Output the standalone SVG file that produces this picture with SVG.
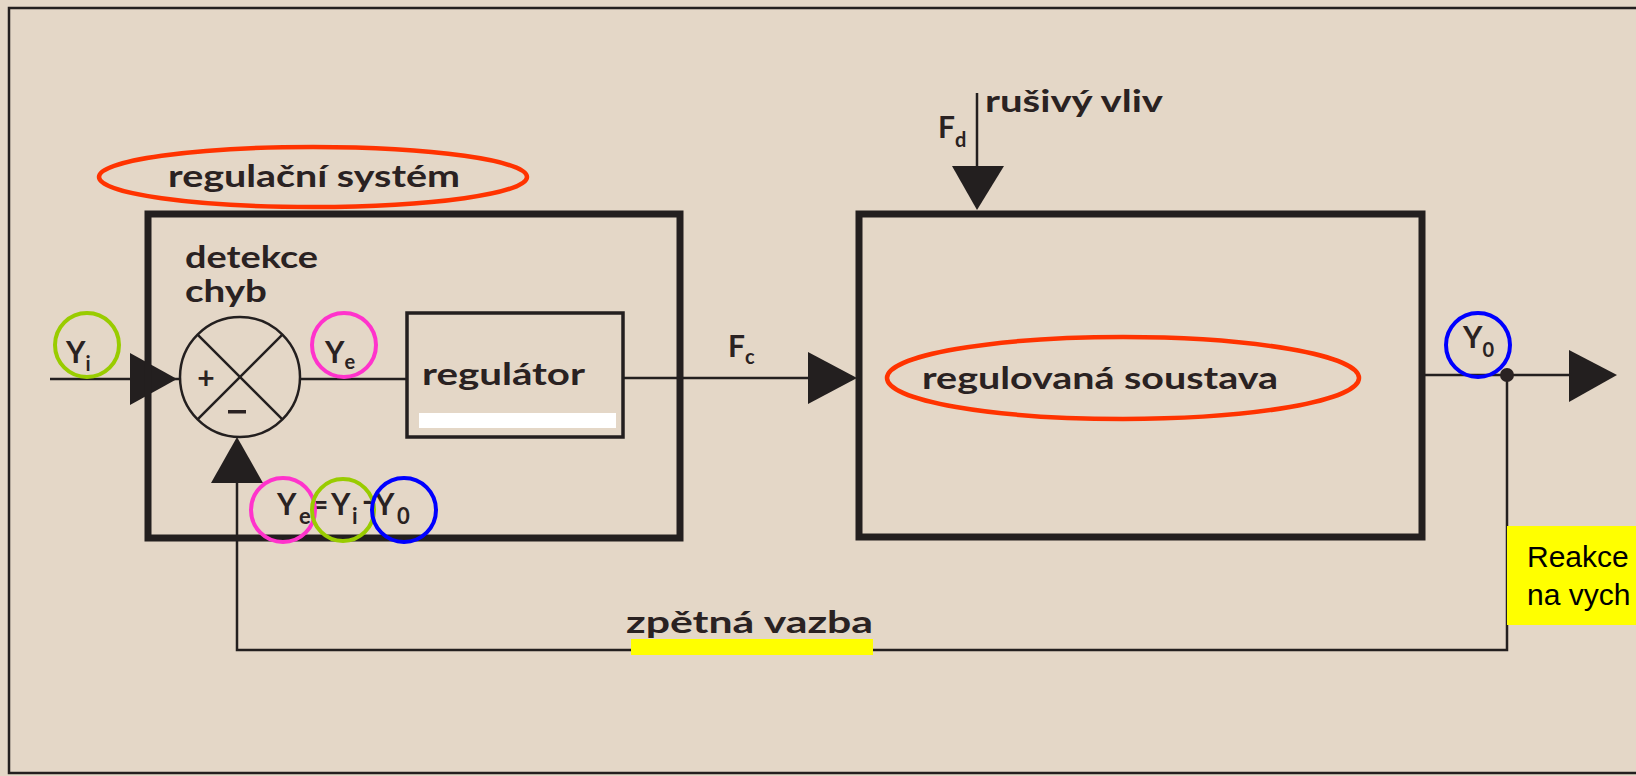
<svg xmlns="http://www.w3.org/2000/svg" width="1636" height="776" viewBox="0 0 1636 776">
<style>
.bg{fill:#e4d7c7}
.ink{stroke:#231f1f;fill:none}
.box{stroke:#231f1f;fill:none;stroke-width:7}
.thin{stroke:#231f1f;fill:none;stroke-width:2.5}
.tri{fill:#231f1f;stroke:none}
.lbl{font-family:Lato,"Open Sans","DejaVu Sans",sans-serif;font-weight:bold;font-size:30px;fill:#2a2222}
.sym{font-family:Lato,"Open Sans","DejaVu Sans",sans-serif;font-weight:bold;font-size:30px;fill:#2a2222}
.sub{font-size:20px}
.red{stroke:#ff3300;fill:none;stroke-width:4.5}
.grn{stroke:#99cc00;fill:none;stroke-width:4}
.mag{stroke:#ff33cc;fill:none;stroke-width:4}
.blu{stroke:#0000ff;fill:none;stroke-width:4}
.note{font-family:"Liberation Sans",Arial,sans-serif;font-size:30px;fill:#000}
</style>
<rect class="bg" x="0" y="0" width="1636" height="776"/>
<rect x="9" y="8" width="1640" height="765" fill="none" stroke="#231f1f" stroke-width="2.5"/>

<g id="connectors">
  <line class="thin" x1="50" y1="379" x2="180" y2="379"/>
  <polygon class="tri" points="130,353 130,405 177,379"/>
  <line class="thin" x1="300" y1="379" x2="407" y2="379"/>
  <line class="thin" x1="623" y1="378" x2="810" y2="378"/>
  <polygon class="tri" points="808,352 808,404 857,378"/>
  <line class="thin" x1="977" y1="93" x2="977" y2="170"/>
  <polygon class="tri" points="952,166 1004,166 977,210"/>
  <line class="thin" x1="1422" y1="375" x2="1572" y2="375"/>
  <polygon class="tri" points="1569,350 1569,402 1617,375"/>
  <polyline class="thin" points="1507,375 1507,650 237,650 237,480"/>
  <polygon class="tri" points="211,483 263,483 237,437"/>
</g>

<g id="regulacni-system">
  <rect class="box" x="148" y="214" width="532" height="324"/>
  <ellipse class="red" cx="313" cy="177" rx="214" ry="30"/>
  <text class="lbl" x="168" y="187" textLength="292" lengthAdjust="spacingAndGlyphs">regulační systém</text>
</g>

<g id="detekce-chyb">
  <text class="lbl" x="185" y="268" textLength="133" lengthAdjust="spacingAndGlyphs">detekce</text>
  <text class="lbl" x="185" y="302" textLength="82" lengthAdjust="spacingAndGlyphs">chyb</text>
  <circle class="thin" cx="240" cy="377" r="60"/>
  <line class="thin" x1="197.6" y1="334.6" x2="282.4" y2="419.4"/>
  <line class="thin" x1="282.4" y1="334.6" x2="197.6" y2="419.4"/>
  <text class="sym" x="206" y="389" text-anchor="middle">+</text>
  <rect x="228" y="410" width="18" height="3.5" fill="#2a2222"/>
</g>

<g id="regulator">
  <rect class="ink" x="407" y="313" width="216" height="124" stroke-width="3.5"/>
  <text class="lbl" x="422" y="385" textLength="163" lengthAdjust="spacingAndGlyphs">regulátor</text>
  <rect x="419" y="413" width="197" height="15" fill="#ffffff"/>
</g>

<g id="regulovana-soustava">
  <rect class="box" x="859" y="214" width="563" height="323"/>
  <ellipse class="red" cx="1123" cy="378" rx="236" ry="41"/>
  <text class="lbl" x="922" y="389" textLength="356" lengthAdjust="spacingAndGlyphs">regulovaná  soustava</text>
</g>

<g id="disturbance">
  <text class="lbl" x="985" y="112" textLength="178" lengthAdjust="spacingAndGlyphs">rušivý  vliv</text>
  <text class="sym" x="938" y="138">F<tspan class="sub" dy="9">d</tspan></text>
</g>

<g id="labels">
  <text class="sym" x="728" y="357">F<tspan class="sub" dy="7">c</tspan></text>
  <text class="sym" x="66" y="363">Y<tspan class="sub" dy="8">i</tspan></text>
  <circle class="grn" cx="87" cy="345" r="32"/>
  <text class="sym" x="325" y="363">Y<tspan class="sub" dy="6">e</tspan></text>
  <circle class="mag" cx="344" cy="345" r="32"/>
  <text class="sym" x="1463" y="348">Y<tspan class="sub" dy="9">0</tspan></text>
  <circle class="blu" cx="1478" cy="345" r="32"/>
</g>

<g id="output-node">
  <circle cx="1507" cy="375" r="7" fill="#2a2222"/>
</g>

<g id="formula">
  <text class="sym" x="277" y="515">Y</text>
  <text class="sym sub" x="299" y="524" style="font-size:22px">e</text>
  <text class="sym" x="311" y="515">=</text>
  <text class="sym" x="331" y="515">Y</text>
  <text class="sym sub" x="352" y="524" style="font-size:22px">i</text>
  <text class="sym" x="362" y="512">-</text>
  <text class="sym" x="375" y="515">Y</text>
  <text class="sym sub" x="397" y="524" style="font-size:22px">0</text>
  <circle class="mag" cx="283" cy="510" r="32"/>
  <circle class="grn" cx="343" cy="510" r="31"/>
  <circle class="blu" cx="404" cy="510" r="32"/>
</g>

<g id="zpetna-vazba">
  <text class="lbl" x="626" y="633" textLength="247" lengthAdjust="spacingAndGlyphs">zpětná  vazba</text>
  <rect x="631" y="639" width="242" height="16" fill="#ffff00"/>
</g>

<g id="note">
  <rect x="1507" y="526" width="140" height="99" fill="#ffff00"/>
  <text class="note" x="1527" y="567">Reakce</text>
  <text class="note" x="1527" y="605">na vych</text>
</g>
</svg>
